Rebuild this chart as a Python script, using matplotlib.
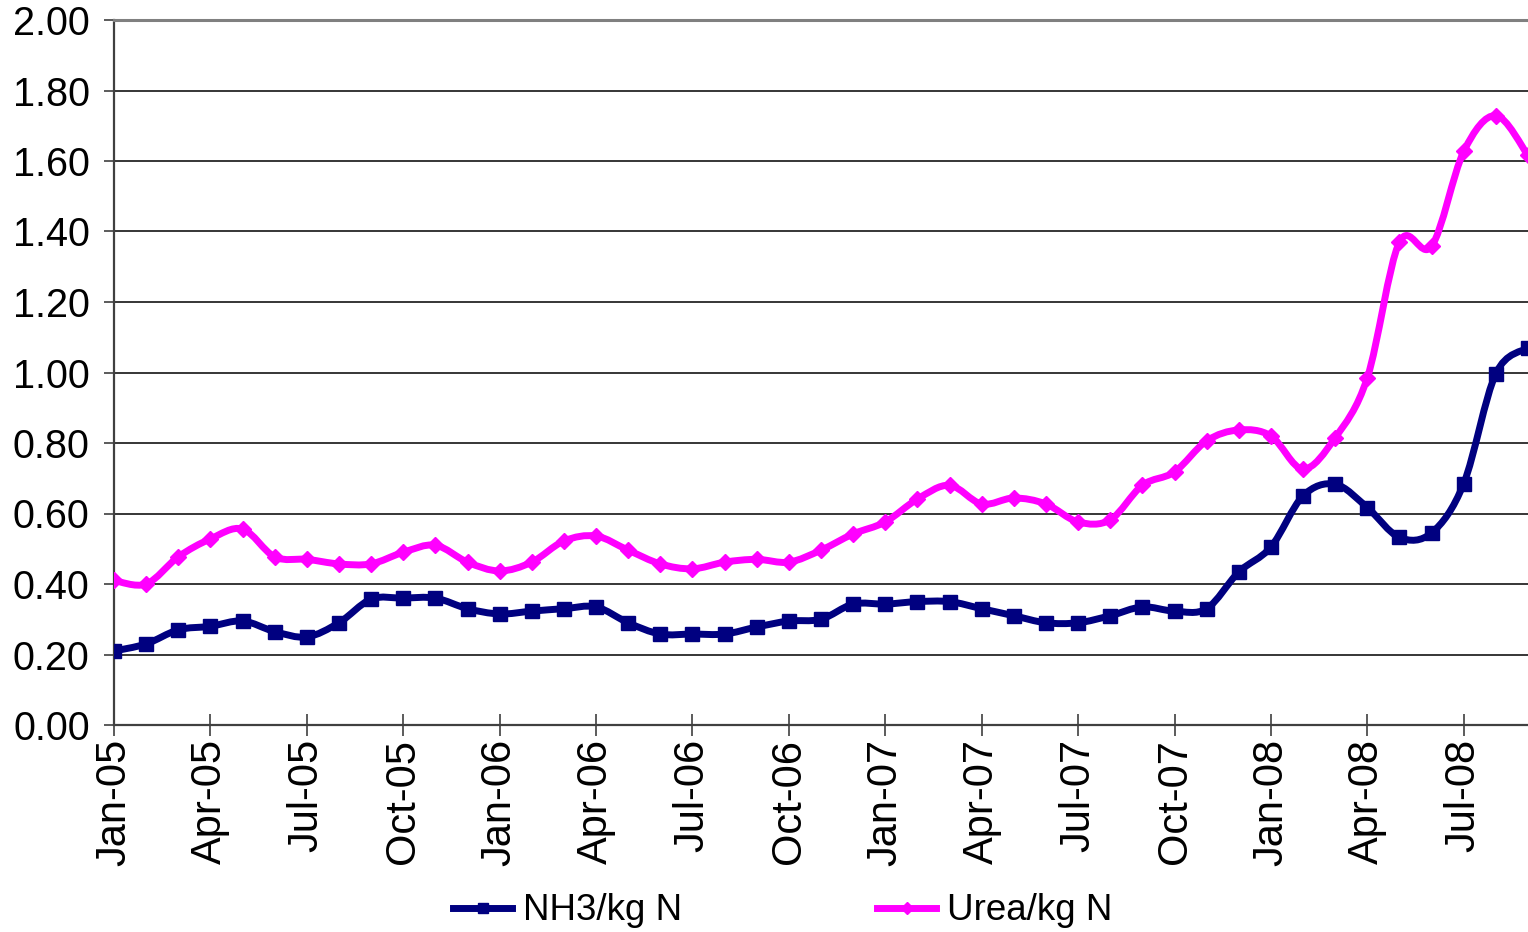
import matplotlib.pyplot as plt
import numpy as np
import pandas as pd
from matplotlib.path import Path
from matplotlib.patches import PathPatch
from matplotlib.lines import Line2D

plt.rcParams['font.family'] = ['Liberation Sans', 'DejaVu Sans']

# monthly prices, Jan-05 .. Sep-08
months = pd.date_range('2005-01-01', '2008-09-01', freq='MS')
month_labels = [m.strftime('%b-%y') for m in months]

nh3 = [0.21, 0.23, 0.27, 0.28, 0.295, 0.265, 0.25, 0.29, 0.357, 0.36, 0.36, 0.33,
       0.315, 0.323, 0.33, 0.335, 0.29, 0.258, 0.258, 0.258, 0.278, 0.295, 0.30, 0.343,
       0.343, 0.35, 0.35, 0.33, 0.31, 0.29, 0.29, 0.31, 0.335, 0.323, 0.33, 0.434,
       0.505, 0.65, 0.683, 0.617, 0.532, 0.545, 0.685, 0.997, 1.07]

urea = [0.41, 0.40, 0.477, 0.528, 0.556, 0.477, 0.47, 0.457, 0.457, 0.49, 0.51, 0.462,
        0.437, 0.462, 0.522, 0.536, 0.496, 0.457, 0.443, 0.462, 0.47, 0.462, 0.496, 0.542,
        0.576, 0.641, 0.68, 0.627, 0.644, 0.627, 0.576, 0.582, 0.68, 0.718, 0.806, 0.837,
        0.82, 0.726, 0.815, 0.985, 1.37, 1.358, 1.627, 1.729, 1.616]

series = [
    ('NH3/kg N', nh3, '#000080', 's', 10.0),
    ('Urea/kg N', urea, '#FF00FF', 'D', 8.5),
]


def smooth_path(x, y):
    # Catmull-Rom style bezier through the points (like a spreadsheet "smoothed line")
    x = np.asarray(x, float)
    y = np.asarray(y, float)
    verts = [(x[0], y[0])]
    codes = [Path.MOVETO]
    n = len(x)
    for i in range(n - 1):
        x0, y0 = (x[i - 1], y[i - 1]) if i > 0 else (x[i], y[i])
        x3, y3 = (x[i + 2], y[i + 2]) if i + 2 < n else (x[i + 1], y[i + 1])
        c1 = (x[i] + (x[i + 1] - x0) / 6, y[i] + (y[i + 1] - y0) / 6)
        c2 = (x[i + 1] - (x3 - x[i]) / 6, y[i + 1] - (y3 - y[i]) / 6)
        verts += [c1, c2, (x[i + 1], y[i + 1])]
        codes += [Path.CURVE4] * 3
    return Path(verts, codes)


fig = plt.figure(figsize=(15.28, 9.32), dpi=100)
ax = fig.add_axes([114 / 1528, 1 - 725 / 932, 1 - 114 / 1528, 705 / 932])

xs = np.arange(len(months))
handles = []
for label, vals, color, marker, ms in series:
    patch = PathPatch(smooth_path(xs, vals), fill=False, edgecolor=color, lw=5,
                      capstyle='round', joinstyle='round', zorder=3)
    ax.add_patch(patch)
    ax.plot(xs, vals, linestyle='none', marker=marker, markersize=ms,
            color=color, markeredgecolor=color, zorder=4)
    handles.append(Line2D([], [], color=color, lw=5, marker=marker,
                          markersize=ms * 0.7, label=label))

ax.set_xlim(0, len(months) - 1)
ax.set_ylim(0, 2.0)

ax.set_yticks(np.arange(0, 2.01, 0.2))
ax.set_yticklabels([f'{v:.2f}' for v in np.arange(0, 2.01, 0.2)], fontsize=28.5)
ax.set_xticks(xs[::3])
ax.set_xticklabels(month_labels[::3], rotation=90, fontsize=30)

ax.grid(axis='y', color='black', lw=1.1, zorder=1)
ax.set_axisbelow(True)
ax.spines['right'].set_visible(False)
ax.spines['top'].set_color('#808080')
ax.spines['top'].set_linewidth(2.2)
for side in ('left', 'bottom'):
    ax.spines[side].set_color('#404040')
    ax.spines[side].set_linewidth(1.6)

ax.tick_params(axis='y', direction='out', length=7.5, width=1.2, color='#404040', pad=10)
ax.tick_params(axis='x', direction='inout', length=16, width=1.2, color='#404040', pad=2)

fig.legend(handles=handles, loc='center', bbox_to_anchor=(783 / 1528, 1 - 911 / 932),
           ncol=2, frameon=False, fontsize=26.5, handlelength=1.6,
           handletextpad=0.3, columnspacing=5.3)

fig.savefig('out.png', dpi=100)
